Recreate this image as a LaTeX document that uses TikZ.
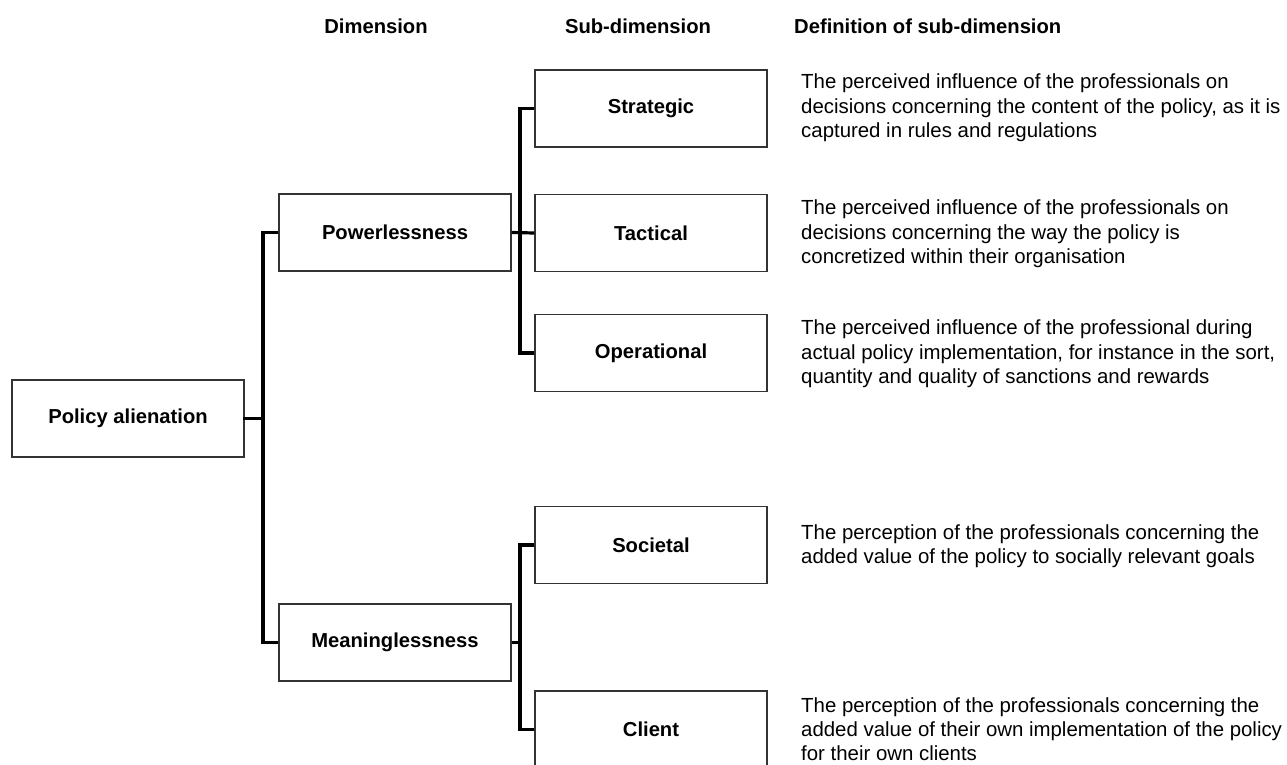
\documentclass[tikz,border=0pt]{standalone}
\usepackage{fontspec}
\setmainfont{Liberation Sans}
\begin{document}
\begin{tikzpicture}[x=1pt,y=-1pt,
  box/.style={draw=black!80,line width=1.1pt,minimum width=232pt,minimum height=77pt,inner sep=0pt,font=\fontsize{20.2}{24.5}\selectfont\bfseries},
  hdr/.style={font=\fontsize{20.2}{24.5}\selectfont\bfseries,inner sep=0pt},
  def/.style={anchor=west,align=left,inner sep=0pt,font=\fontsize{20.4}{24.3}\selectfont},
  conn/.style={line width=3.2pt,line cap=rect}]
\useasboundingbox (0,0) rectangle (1287,764);
\node[hdr] (h1) at (376,26) {Dimension};
\node[hdr] (h2) at (638,26) {Sub-dimension};
\node[hdr,anchor=west] (h3) at (794,26) {Definition of sub-dimension};

\node[box] (pa) at (128,418.5) {Policy alienation};
\node[box] (pw) at (395,232.5) {Powerlessness};
\node[box] (mn) at (395,642.5) {Meaninglessness};
\node[box] (st) at (651,108.5) {Strategic};
\node[box] (ta) at (651,233) {Tactical};
\node[box] (op) at (651,353) {Operational};
\node[box] (so) at (651,545) {Societal};
\node[box] (cl) at (651,729.5) {Client};

\node[def] (dst) at (801,108) {The perceived influence of the professionals on\\decisions concerning the content of the policy, as it is\\captured in rules and regulations};
\node[def] (dta) at (801,234) {The perceived influence of the professionals on\\decisions concerning the way the policy is\\concretized within their organisation};
\node[def] (dop) at (801,354) {The perceived influence of the professional during\\actual policy implementation, for instance in the sort,\\quantity and quality of sanctions and rewards};
\node[def] (dso) at (801,546) {The perception of the professionals concerning the\\added value of the policy to socially relevant goals};
\node[def] (dcl) at (801,729) {The perception of the professionals concerning the\\added value of their own implementation of the policy\\for their own clients};

\coordinate (j1) at (263,418.5);
\draw[conn] (pa.east) -- (j1);
\draw[conn,line cap=butt] (pw.west) -- (pw.west -| j1) -- (mn.west -| j1) -- (mn.west);
\coordinate (j2) at (520,233);
\draw[conn,line cap=butt] (pw.east) -- (ta.west);
\draw[conn,line cap=butt] (st.west) -- (st.west -| j2) -- (op.west -| j2) -- (op.west);
\draw[conn,line cap=butt] (mn.east) -- (mn.east -| j2);
\draw[conn,line cap=butt] (so.west) -- (so.west -| j2) -- (cl.west -| j2) -- (cl.west);
\end{tikzpicture}
\end{document}
